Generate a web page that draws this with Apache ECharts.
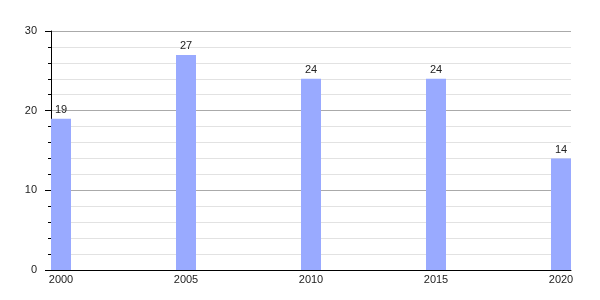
<!DOCTYPE html>
<html><head><meta charset="utf-8">
<script src="https://cdn.jsdelivr.net/npm/echarts@6/dist/echarts.min.js"></script>
<style>html,body{margin:0;padding:0;background:#fff}#c{width:600px;height:300px}</style>
</head><body><div id="c"></div>
<script>
const years = [2000, 2005, 2010, 2015, 2020];
const values = [19, 27, 24, 24, 14];
const yTicks = [0, 10, 20, 30];

const chart = echarts.init(document.getElementById('c'), null, {renderer: 'canvas'});
const font = 'Liberation Sans, Arial, sans-serif';
chart.setOption({
  animation: false,
  backgroundColor: '#fff',
  grid: {left: 51, right: 29, top: 31, bottom: 30, containLabel: false},
  xAxis: {
    type: 'value', min: 1999.6, max: 2020.4,
    axisLine: {show: true, onZero: false, lineStyle: {color: '#000', width: 1}},
    axisTick: {show: false},
    splitLine: {show: false},
    axisLabel: {customValues: years, color: '#222', fontSize: 11, fontFamily: font, margin: 4,
      formatter: v => String(v)}
  },
  yAxis: {
    type: 'value', min: 0, max: 30, interval: 10,
    axisLine: {show: true, lineStyle: {color: '#000', width: 1}},
    axisTick: {show: true, length: 6, lineStyle: {color: '#000'}},
    minorTick: {show: true, splitNumber: 5, length: 3, lineStyle: {color: '#000'}},
    splitLine: {show: true, lineStyle: {color: '#aaaaaa', width: 1}},
    minorSplitLine: {show: true, lineStyle: {color: '#e2e2e2', width: 1}},
    axisLabel: {customValues: yTicks, color: '#222', fontSize: 11, fontFamily: font, margin: 14}
  },
  series: [{
    type: 'bar',
    data: years.map((y, i) => [y, values[i]]),
    barWidth: 20,
    itemStyle: {color: '#99aaff'},
    label: {show: true, position: 'top', distance: 3, color: '#222', fontSize: 11, fontFamily: font}
  }]
});
</script></body></html>
